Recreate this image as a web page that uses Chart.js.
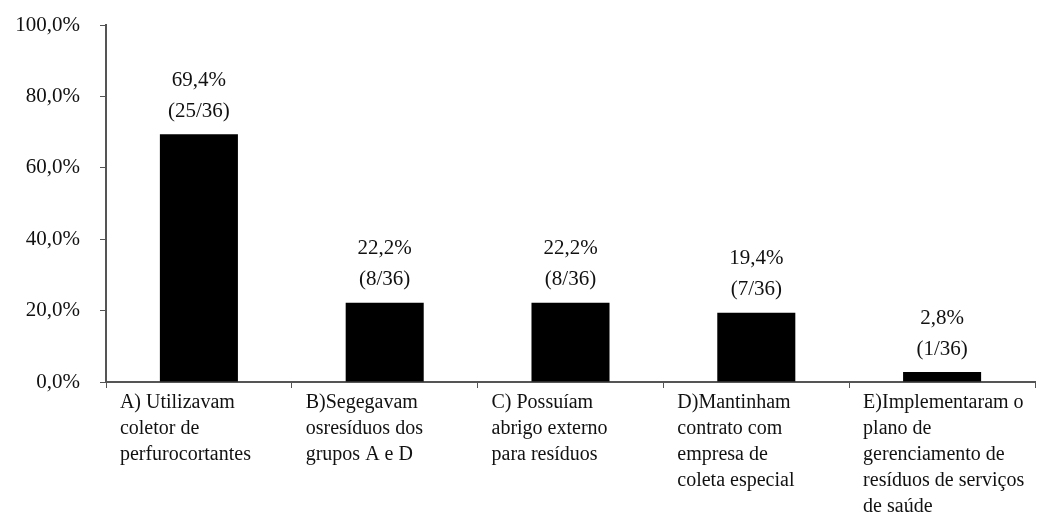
<!DOCTYPE html>
<html>
<head>
<meta charset="utf-8">
<script src="https://cdn.jsdelivr.net/npm/chart.js@4"></script>
<style>
  html, body { margin: 0; padding: 0; background: #fff; }
  #wrap { width: 1054px; height: 512px; }
</style>
</head>
<body>
<div id="wrap"><canvas id="myChart" width="1054" height="512"></canvas></div>
<script>
const categories = [
    ['A) Utilizavam', 'coletor de', 'perfurocortantes'],
    ['B)Segegavam', 'osresíduos dos', 'grupos A e D'],
    ['C) Possuíam', 'abrigo externo', 'para resíduos'],
    ['D)Mantinham', 'contrato com', 'empresa de', 'coleta especial'],
    ['E)Implementaram o', 'plano de', 'gerenciamento de', 'resíduos de serviços', 'de saúde']
];
const percentages = [69.4, 22.2, 22.2, 19.4, 2.8];
const counts = ['25/36', '8/36', '8/36', '7/36', '1/36'];
const yTicks = [0, 20, 40, 60, 80, 100];

const ctx = document.getElementById('myChart');
const serif = 'Liberation Serif';

const fmt = v => v.toFixed(1).replace('.', ',') + '%';

// two-line value labels above each bar
const barLabels = {
    id: 'barLabels',
    afterDatasetsDraw(chart) {
        const c = chart.ctx;
        const meta = chart.getDatasetMeta(0);
        c.save();
        c.font = '21px "' + serif + '"';
        c.fillStyle = '#111';
        c.textAlign = 'center';
        c.textBaseline = 'middle';
        meta.data.forEach((bar, i) => {
            c.fillText(fmt(percentages[i]), bar.x, bar.y - 54);
            c.fillText('(' + counts[i] + ')', bar.x, bar.y - 23);
        });
        c.restore();
    }
};

const myChart = new Chart(ctx, { // eslint-disable-line
    type: 'bar',
    data: {
        labels: categories,
        datasets: [
            {
                data: percentages,
                backgroundColor: '#000',
                borderWidth: 0,
                barPercentage: 0.42,
                categoryPercentage: 1
            }
        ]
    },
    plugins: [barLabels],
    options: {
        responsive: false,
        animation: false,
        layout: {
            padding: { top: 25, right: 19, left: 0, bottom: 0 }
        },
        plugins: {
            legend: { display: false },
            tooltip: { enabled: false }
        },
        scales: {
            x: {
                grid: {
                    offset: true,
                    drawOnChartArea: false,
                    drawTicks: true,
                    tickLength: 6,
                    color: '#555'
                },
                border: { color: '#555', width: 2 },
                ticks: {
                    align: 'start',
                    labelOffset: -79,
                    padding: 2,
                    maxRotation: 0,
                    autoSkip: false,
                    color: '#111',
                    font: { family: serif, size: 20, lineHeight: 1.3 }
                },
                afterFit(scale) {
                    scale.height = 130;
                    scale.paddingLeft = 0;
                    scale.paddingRight = 0;
                }
            },
            y: {
                min: 0,
                max: 100,
                afterBuildTicks(scale) { scale.ticks = yTicks.map(v => ({ value: v })); },
                grid: {
                    drawOnChartArea: false,
                    drawTicks: true,
                    tickLength: 6,
                    color: '#555'
                },
                border: { color: '#555', width: 2 },
                ticks: {
                    padding: 20,
                    color: '#111',
                    font: { family: serif, size: 21 },
                    callback: v => fmt(v)
                },
                afterFit(scale) {
                    scale.width = 106;
                    scale.paddingTop = 0;
                    scale.paddingBottom = 0;
                }
            }
        }
    }
});
</script>
</body>
</html>
